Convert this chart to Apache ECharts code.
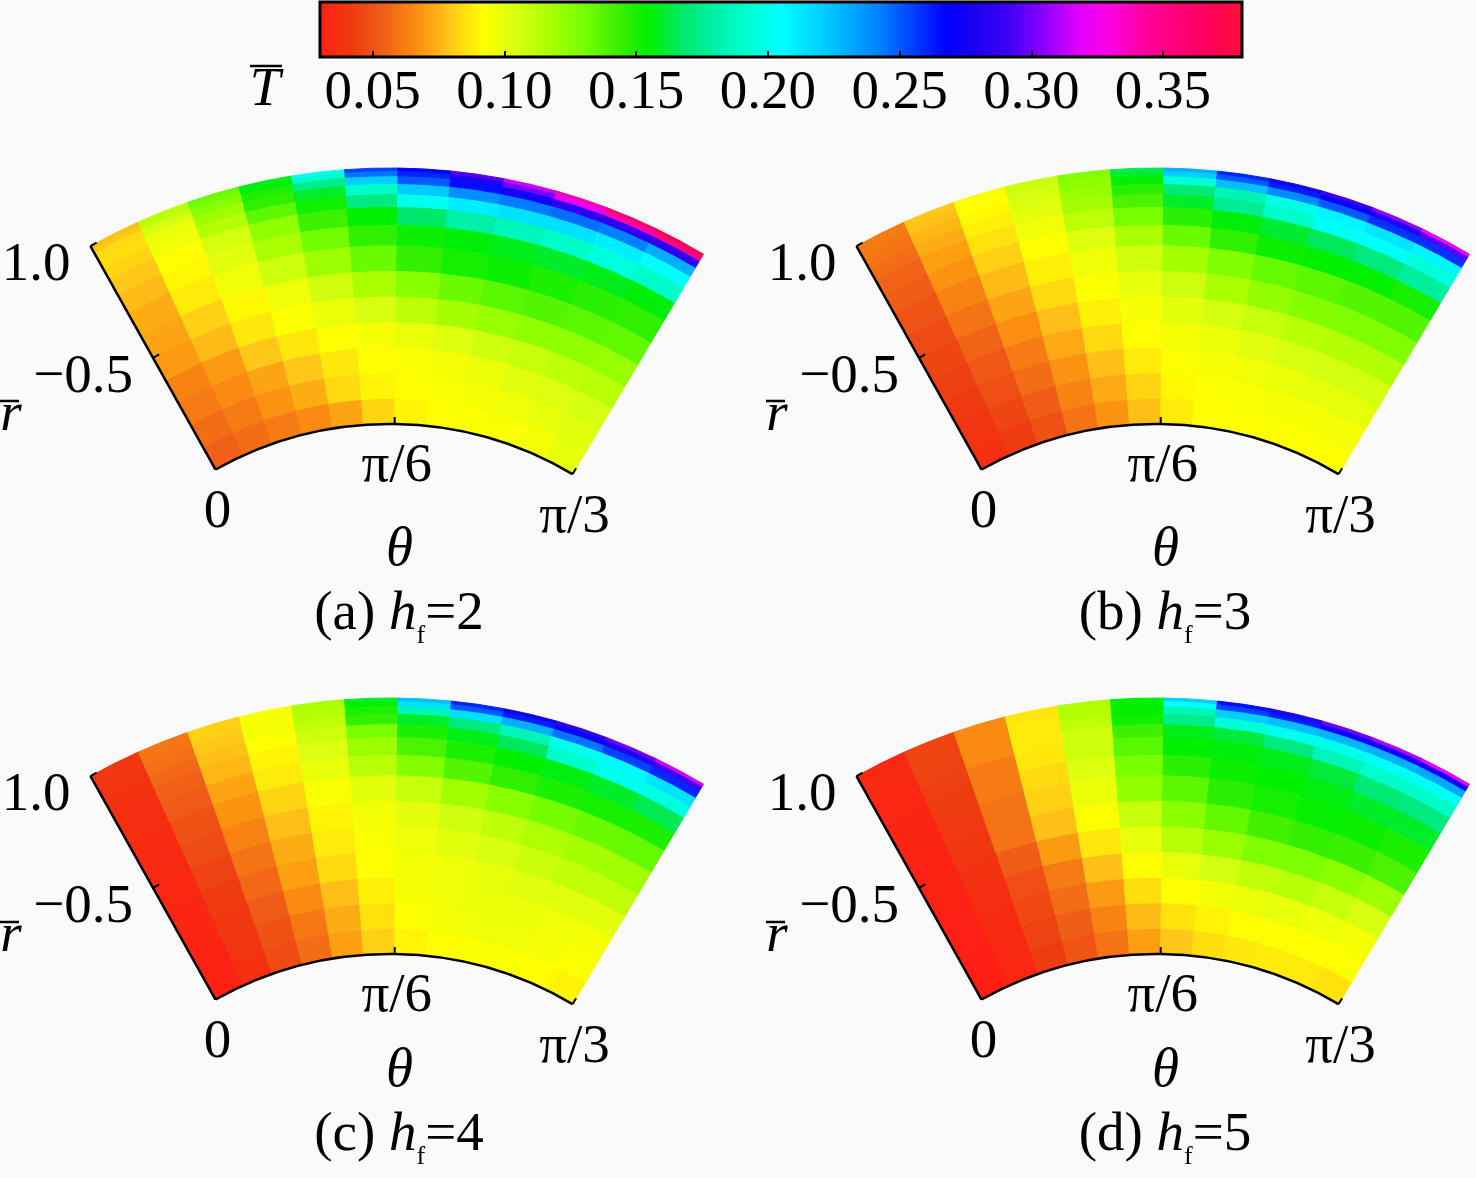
<!DOCTYPE html>
<html>
<head>
<meta charset="utf-8">
<title>T field, four panels</title>
<style>
  html, body { margin: 0; padding: 0; background: #fafafa; }
  #chart { width: 1476px; height: 1178px; }
</style>
<script src="https://cdn.jsdelivr.net/npm/echarts@6/dist/echarts.min.js"></script>
</head>
<body>
<div id="chart"></div>
<script>
// colour scale (evenly spaced stops from colorMin to colorMax)
var colorMin = 0.03;
var colorMax = 0.38;
var colorStops = [
  '#ff1e14', '#ee3a10', '#f06018', '#fb9010', '#ffc818', '#ffff00',
  '#d8ff10', '#a8ff00', '#78ff00', '#40f000', '#00f000', '#00e868',
  '#00f0a8', '#00ffd0', '#00ffff', '#00d8ff', '#00b0ff', '#0080ff',
  '#0040ff', '#0000ff', '#2000f0', '#4400f8', '#9000ff', '#e000ff',
  '#ff00e0', '#ff00a0', '#ff0078', '#ff0058', '#ff1038'
];
var colorTicks = [0.05, 0.10, 0.15, 0.20, 0.25, 0.30, 0.35];

// grid of the field: theta in degrees (0 .. 60 = pi/3), r from inner (0) to outer (1)
var thetaEdges = [0, 5, 10, 15, 20, 25, 30, 35, 40, 45, 50, 55, 60];
var radiusEdges = [0, 0.1, 0.2, 0.3, 0.4, 0.5, 0.6, 0.7, 0.78, 0.85, 0.9, 0.94, 0.97, 0.99, 1.0];

var radiusTicks = [0.5, 1.0];
var radiusTickLabels = ['\u22120.5', '1.0'];
var thetaTicks = [0, 30, 60];
var thetaTickLabels = ['0', '\u03c0/6', '\u03c0/3'];

var panelNames = ['(a)', '(b)', '(c)', '(d)'];
var panelHf = ['2', '3', '4', '5'];

// T values, one row per ring (inner -> outer), one column per theta sector (0 -> pi/3)
var tempA = [
  [0.055, 0.058, 0.062, 0.066, 0.072, 0.083, 0.090, 0.092, 0.093, 0.094, 0.096, 0.100],
  [0.058, 0.062, 0.068, 0.074, 0.084, 0.090, 0.092, 0.094, 0.096, 0.098, 0.100, 0.102],
  [0.062, 0.066, 0.072, 0.080, 0.087, 0.092, 0.094, 0.096, 0.099, 0.102, 0.104, 0.106],
  [0.064, 0.070, 0.080, 0.087, 0.092, 0.095, 0.099, 0.103, 0.107, 0.110, 0.112, 0.113],
  [0.070, 0.077, 0.087, 0.093, 0.099, 0.105, 0.112, 0.118, 0.122, 0.124, 0.124, 0.122],
  [0.072, 0.082, 0.091, 0.098, 0.107, 0.117, 0.126, 0.133, 0.137, 0.138, 0.137, 0.135],
  [0.074, 0.088, 0.097, 0.108, 0.120, 0.133, 0.145, 0.151, 0.153, 0.150, 0.147, 0.146],
  [0.077, 0.091, 0.102, 0.117, 0.132, 0.146, 0.153, 0.156, 0.158, 0.160, 0.158, 0.156],
  [0.080, 0.092, 0.106, 0.124, 0.143, 0.155, 0.168, 0.180, 0.186, 0.190, 0.196, 0.190],
  [0.083, 0.097, 0.114, 0.136, 0.152, 0.172, 0.200, 0.210, 0.215, 0.215, 0.210, 0.205],
  [0.085, 0.099, 0.120, 0.146, 0.160, 0.190, 0.222, 0.238, 0.243, 0.246, 0.242, 0.230],
  [0.084, 0.106, 0.126, 0.150, 0.175, 0.220, 0.250, 0.265, 0.275, 0.285, 0.285, 0.285],
  [0.080, 0.112, 0.131, 0.156, 0.190, 0.245, 0.260, 0.280, 0.300, 0.320, 0.340, 0.350],
  [0.078, 0.113, 0.133, 0.158, 0.200, 0.255, 0.270, 0.295, 0.315, 0.340, 0.360, 0.370]
];
var tempB = [
  [0.038, 0.043, 0.050, 0.060, 0.068, 0.078, 0.088, 0.092, 0.093, 0.093, 0.093, 0.093],
  [0.040, 0.046, 0.054, 0.064, 0.073, 0.083, 0.091, 0.093, 0.094, 0.095, 0.095, 0.095],
  [0.042, 0.049, 0.058, 0.068, 0.078, 0.088, 0.093, 0.095, 0.097, 0.099, 0.100, 0.100],
  [0.044, 0.052, 0.062, 0.073, 0.084, 0.092, 0.096, 0.099, 0.102, 0.105, 0.106, 0.106],
  [0.046, 0.056, 0.067, 0.078, 0.089, 0.095, 0.101, 0.106, 0.110, 0.113, 0.114, 0.114],
  [0.048, 0.060, 0.072, 0.084, 0.093, 0.100, 0.108, 0.117, 0.123, 0.127, 0.128, 0.128],
  [0.051, 0.064, 0.077, 0.089, 0.097, 0.107, 0.118, 0.128, 0.134, 0.137, 0.138, 0.138],
  [0.054, 0.068, 0.082, 0.093, 0.103, 0.117, 0.133, 0.146, 0.153, 0.155, 0.154, 0.151],
  [0.056, 0.071, 0.086, 0.097, 0.112, 0.130, 0.147, 0.156, 0.161, 0.166, 0.172, 0.178],
  [0.058, 0.074, 0.089, 0.101, 0.118, 0.140, 0.160, 0.176, 0.190, 0.203, 0.203, 0.196],
  [0.060, 0.076, 0.091, 0.104, 0.122, 0.147, 0.170, 0.184, 0.198, 0.208, 0.213, 0.208],
  [0.061, 0.078, 0.092, 0.106, 0.124, 0.155, 0.195, 0.225, 0.240, 0.250, 0.258, 0.258],
  [0.062, 0.079, 0.093, 0.108, 0.126, 0.160, 0.220, 0.250, 0.262, 0.272, 0.280, 0.295],
  [0.062, 0.080, 0.094, 0.109, 0.128, 0.165, 0.230, 0.260, 0.275, 0.290, 0.305, 0.325]
];
var tempC = [
  [0.032, 0.038, 0.048, 0.058, 0.071, 0.082, 0.090, 0.093, 0.094, 0.094, 0.093, 0.090],
  [0.032, 0.040, 0.050, 0.061, 0.074, 0.086, 0.093, 0.096, 0.098, 0.097, 0.095, 0.093],
  [0.033, 0.041, 0.053, 0.066, 0.078, 0.089, 0.095, 0.097, 0.099, 0.099, 0.097, 0.095],
  [0.033, 0.043, 0.057, 0.071, 0.084, 0.092, 0.096, 0.098, 0.100, 0.102, 0.102, 0.101],
  [0.034, 0.045, 0.060, 0.074, 0.088, 0.094, 0.098, 0.101, 0.105, 0.109, 0.111, 0.111],
  [0.035, 0.048, 0.064, 0.078, 0.090, 0.096, 0.101, 0.107, 0.112, 0.116, 0.118, 0.119],
  [0.036, 0.050, 0.068, 0.083, 0.094, 0.101, 0.110, 0.119, 0.126, 0.131, 0.133, 0.134],
  [0.037, 0.053, 0.072, 0.088, 0.100, 0.113, 0.127, 0.138, 0.146, 0.150, 0.151, 0.150],
  [0.038, 0.055, 0.076, 0.090, 0.104, 0.121, 0.140, 0.150, 0.155, 0.157, 0.160, 0.165],
  [0.039, 0.057, 0.078, 0.093, 0.108, 0.130, 0.150, 0.158, 0.166, 0.190, 0.200, 0.197],
  [0.040, 0.059, 0.080, 0.095, 0.112, 0.145, 0.160, 0.172, 0.185, 0.200, 0.207, 0.214],
  [0.041, 0.060, 0.081, 0.095, 0.114, 0.150, 0.185, 0.215, 0.230, 0.245, 0.255, 0.260],
  [0.041, 0.061, 0.082, 0.095, 0.116, 0.155, 0.215, 0.250, 0.262, 0.270, 0.280, 0.290],
  [0.041, 0.061, 0.082, 0.094, 0.117, 0.160, 0.225, 0.260, 0.272, 0.285, 0.300, 0.315]
];
var tempD = [
  [0.030, 0.034, 0.043, 0.051, 0.060, 0.071, 0.080, 0.085, 0.087, 0.088, 0.088, 0.086],
  [0.030, 0.035, 0.045, 0.054, 0.064, 0.077, 0.086, 0.090, 0.092, 0.093, 0.093, 0.092],
  [0.031, 0.036, 0.047, 0.058, 0.070, 0.085, 0.092, 0.096, 0.099, 0.100, 0.098, 0.095],
  [0.031, 0.037, 0.049, 0.062, 0.078, 0.092, 0.100, 0.106, 0.111, 0.113, 0.110, 0.105],
  [0.032, 0.039, 0.054, 0.070, 0.087, 0.100, 0.113, 0.122, 0.128, 0.129, 0.125, 0.120],
  [0.032, 0.041, 0.060, 0.078, 0.093, 0.110, 0.125, 0.135, 0.142, 0.145, 0.144, 0.140],
  [0.033, 0.042, 0.060, 0.082, 0.099, 0.123, 0.136, 0.147, 0.151, 0.154, 0.153, 0.150],
  [0.033, 0.043, 0.062, 0.084, 0.103, 0.130, 0.147, 0.153, 0.155, 0.157, 0.160, 0.160],
  [0.034, 0.044, 0.062, 0.087, 0.108, 0.137, 0.155, 0.156, 0.158, 0.162, 0.170, 0.172],
  [0.034, 0.045, 0.066, 0.088, 0.107, 0.143, 0.158, 0.162, 0.172, 0.185, 0.190, 0.190],
  [0.035, 0.046, 0.066, 0.088, 0.112, 0.152, 0.175, 0.195, 0.200, 0.200, 0.202, 0.202],
  [0.035, 0.046, 0.066, 0.088, 0.115, 0.155, 0.185, 0.220, 0.225, 0.228, 0.230, 0.232],
  [0.035, 0.046, 0.066, 0.087, 0.115, 0.155, 0.205, 0.255, 0.262, 0.268, 0.272, 0.275],
  [0.035, 0.046, 0.066, 0.087, 0.115, 0.155, 0.220, 0.265, 0.280, 0.300, 0.310, 0.320]
];
var panelTemps = [tempA, tempB, tempC, tempD];

// layout
var panelCenters = [[390, 781], [1156, 781], [390, 1311], [1156, 1311]];
var labelShift = [0, 0, -9, -9];
var innerR = 357, outerR = 613, startAngle = 119.25;
var FONT_FAMILY = 'Liberation Serif, Times New Roman, serif';
var FONT = '55px ' + FONT_FAMILY;
var FONT_IT = 'italic 55px ' + FONT_FAMILY;

var chart = echarts.init(document.getElementById('chart'));

function cellData(grid) {
  var out = [];
  for (var i = 0; i < grid.length; i++) {
    for (var j = 0; j < grid[i].length; j++) {
      out.push([(radiusEdges[i] + radiusEdges[i + 1]) / 2,
                (thetaEdges[j] + thetaEdges[j + 1]) / 2,
                grid[i][j], i, j]);
    }
  }
  return out;
}

function renderCell(params, api) {
  var i = api.value(3), j = api.value(4);
  var a = api.coord([radiusEdges[i], thetaEdges[j]]);
  var b = api.coord([radiusEdges[i + 1], thetaEdges[j + 1]]);
  var color = api.visual('color');
  return {
    type: 'sector',
    shape: {
      cx: params.coordSys.cx, cy: params.coordSys.cy,
      r0: a[2], r: b[2],
      startAngle: -a[3], endAngle: -b[3], clockwise: true
    },
    style: { fill: color, stroke: color, lineWidth: 1 }
  };
}

function renderFrame(params, api) {
  var cs = params.coordSys;
  var kids = [];
  var black = { stroke: '#000', lineWidth: 2.5, fill: null };
  var p0 = api.coord([0, thetaEdges[0]]);
  var p1 = api.coord([1, thetaEdges[0]]);
  var q0 = api.coord([0, thetaEdges[thetaEdges.length - 1]]);
  // left edge (theta = 0) and inner arc
  kids.push({ type: 'line', shape: { x1: p0[0], y1: p0[1], x2: p1[0], y2: p1[1] }, style: black });
  kids.push({
    type: 'arc',
    shape: { cx: cs.cx, cy: cs.cy, r: p0[2], startAngle: -p0[3], endAngle: -q0[3], clockwise: true },
    style: black
  });
  radiusTicks.forEach(function (v, k) {
    var p = api.coord([v, thetaEdges[0]]);
    var nx = Math.sin(p[3]), ny = Math.cos(p[3]);
    kids.push({ type: 'line', shape: { x1: p[0], y1: p[1], x2: p[0] + nx * 7, y2: p[1] + ny * 7 },
                style: { stroke: '#000', lineWidth: 2 } });
    kids.push({ type: 'text', x: p[0] - nx * 23, y: p[1] - ny * 23 + 8,
                style: { text: radiusTickLabels[k], font: FONT, fill: '#000', align: 'right', verticalAlign: 'middle' } });
  });
  thetaTicks.forEach(function (v, k) {
    var p = api.coord([0, v]);
    var dx = Math.cos(p[3]), dy = -Math.sin(p[3]);
    kids.push({ type: 'line', shape: { x1: p[0], y1: p[1], x2: p[0] + dx * 7, y2: p[1] + dy * 7 },
                style: { stroke: '#000', lineWidth: 2 } });
    kids.push({ type: 'text', x: p[0] + 2, y: p[1] + 43,
                style: { text: thetaTickLabels[k], font: FONT, fill: '#000', align: 'center', verticalAlign: 'middle' } });
  });
  return { type: 'group', children: kids };
}

var gradient = new echarts.graphic.LinearGradient(0, 0, 1, 0, colorStops.map(function (c, i) {
  return { offset: i / (colorStops.length - 1), color: c };
}));

var series = [{
  type: 'custom',
  name: 'colorbar',
  xAxisIndex: 0, yAxisIndex: 0,
  silent: true, z: 1,
  data: [[colorMin, colorMax]],
  renderItem: function (params, api) {
    var a = api.coord([api.value(0), 1]);
    var b = api.coord([api.value(1), 0]);
    return {
      type: 'rect',
      shape: { x: a[0], y: a[1], width: b[0] - a[0], height: b[1] - a[1] },
      style: { fill: gradient, stroke: '#000', lineWidth: 3 }
    };
  }
}];
panelTemps.forEach(function (grid, i) {
  series.push({
    type: 'custom', name: 'T ' + panelNames[i], coordinateSystem: 'polar', polarIndex: i,
    silent: true, data: cellData(grid), renderItem: renderCell
  });
});
panelTemps.forEach(function (grid, i) {
  series.push({
    type: 'custom', name: 'frame ' + panelNames[i], coordinateSystem: 'polar', polarIndex: i,
    silent: true, z: 5, data: [[1, 30]], renderItem: renderFrame
  });
});

// axis names and captions
var graphics = [
  { type: 'text', x: 265, y: 91, style: { text: 'T', font: FONT_IT, fill: '#000', align: 'center', verticalAlign: 'middle' } },
  { type: 'line', shape: { x1: 250, y1: 66, x2: 282, y2: 66 }, style: { stroke: '#000', lineWidth: 2.5 } }
];
panelCenters.forEach(function (c, i) {
  var s = labelShift[i];
  graphics.push({ type: 'text', x: c[0] + 9.5, y: c[1] - 230 + s,
    style: { text: '\u03b8', font: FONT_IT, fill: '#000', align: 'center', verticalAlign: 'middle' } });
  graphics.push({ type: 'text', x: c[0] - 379, y: c[1] - 365 + s,
    style: { text: 'r', font: FONT_IT, fill: '#000', align: 'center', verticalAlign: 'middle' } });
  graphics.push({ type: 'line', shape: { x1: c[0] - 390, y1: c[1] - 380 + s, x2: c[0] - 371, y2: c[1] - 380 + s },
    style: { stroke: '#000', lineWidth: 2.5 } });
  graphics.push({ type: 'text', x: c[0] + 9, y: c[1] - 166.5 + s,
    style: {
      text: panelNames[i] + ' {i|h}{s|f}=' + panelHf[i],
      fontSize: 55, fontFamily: FONT_FAMILY, lineHeight: 70, fill: '#000',
      align: 'center', verticalAlign: 'middle',
      rich: {
        i: { fontSize: 55, fontStyle: 'italic', fontFamily: FONT_FAMILY, lineHeight: 70 },
        s: { fontSize: 26, fontFamily: FONT_FAMILY, lineHeight: 26, verticalAlign: 'bottom' }
      }
    } });
});

var option = {
  backgroundColor: '#fafafa',
  animation: false,
  grid: { left: 320, top: 2, width: 922, height: 55 },
  xAxis: {
    type: 'value', min: colorMin, max: colorMax, position: 'bottom', z: 5,
    axisLine: { show: false },
    axisTick: { show: true, inside: true, length: 6, customValues: colorTicks,
                lineStyle: { color: '#000', width: 2 } },
    axisLabel: { customValues: colorTicks, margin: 9, color: '#000', fontSize: 55,
                 fontFamily: FONT_FAMILY, formatter: function (v) { return v.toFixed(2); } },
    splitLine: { show: false }
  },
  yAxis: { type: 'value', min: 0, max: 1, show: false },
  polar: panelCenters.map(function (c) { return { center: c, radius: [innerR, outerR] }; }),
  angleAxis: panelCenters.map(function (c, i) {
    return { polarIndex: i, type: 'value', min: 0, max: 360, startAngle: startAngle, clockwise: true, show: false };
  }),
  radiusAxis: panelCenters.map(function (c, i) {
    return { polarIndex: i, type: 'value', min: 0, max: 1, show: false };
  }),
  visualMap: {
    type: 'continuous', show: false, min: colorMin, max: colorMax, dimension: 2,
    seriesIndex: [1, 2, 3, 4], inRange: { color: colorStops }
  },
  graphic: graphics,
  series: series
};
chart.setOption(option);
</script>
</body>
</html>
